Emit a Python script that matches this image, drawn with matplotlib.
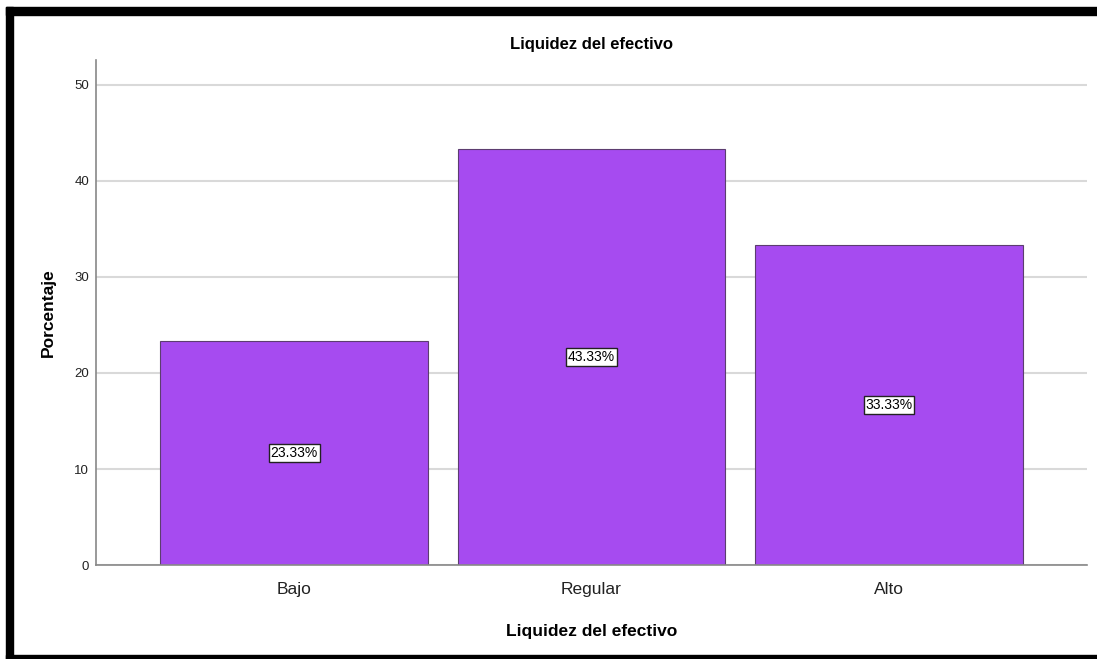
import matplotlib
matplotlib.use("Agg")
import matplotlib.pyplot as plt
from matplotlib.patches import Rectangle

plt.rcParams['font.family'] = ['Liberation Sans', 'DejaVu Sans']

# Data
categories = ['Bajo', 'Regular', 'Alto']
percentages = [23.33, 43.33, 33.33]
y_ticks = [0, 10, 20, 30, 40, 50]

fig = plt.figure(figsize=(10.97, 6.59), dpi=100)
ax = fig.add_axes([0.0875, 0.1426, 0.9034, 0.7664])

x = list(range(len(categories)))
ax.bar(x, percentages, width=0.9, color='#a64bf0', edgecolor='#5c3d70', linewidth=0.8, zorder=2)

for xi, v in zip(x, percentages):
    ax.text(xi, v / 2, f'{v:.2f}%', ha='center', va='center', fontsize=10, zorder=3,
            bbox=dict(boxstyle='square,pad=0.12', facecolor='white', edgecolor='#222222', linewidth=1))

ax.set_xlim(-0.667, 2.667)
ax.set_ylim(0, 52.6)
ax.set_yticks(y_ticks)
ax.set_xticks(x)
ax.set_xticklabels(categories, fontsize=12.5, color='#222222')
ax.tick_params(axis='y', length=0, labelsize=9.5, pad=5, colors='#222222')
ax.tick_params(axis='x', length=0, pad=12)
ax.yaxis.grid(True, color='#d9d9d9', linewidth=1.5, zorder=0)
ax.set_axisbelow(True)
for s in ['top', 'right']:
    ax.spines[s].set_visible(False)
for s in ['left', 'bottom']:
    ax.spines[s].set_color('#888888')
    ax.spines[s].set_linewidth(1.2)

ax.set_xlabel('Liquidez del efectivo', fontsize=12.5, fontweight='bold', labelpad=20)
ax.set_ylabel('Porcentaje', fontsize=12.5, fontweight='bold', labelpad=13)
fig.text(0.539, 0.932, 'Liquidez del efectivo', ha='center', va='center', fontsize=12, fontweight='bold')

# black frame bands (top, left, bottom)
W, H = 1097, 659
fig.patches.append(Rectangle((6 / W, 1 - 15 / H), 1 - 6 / W, 8 / H, transform=fig.transFigure, color='black'))
fig.patches.append(Rectangle((6 / W, 0), 7 / W, 1 - 7 / H, transform=fig.transFigure, color='black'))
fig.patches.append(Rectangle((6 / W, 0), 1 - 6 / W, 4 / H, transform=fig.transFigure, color='black'))

fig.savefig('out.png', dpi=100)
